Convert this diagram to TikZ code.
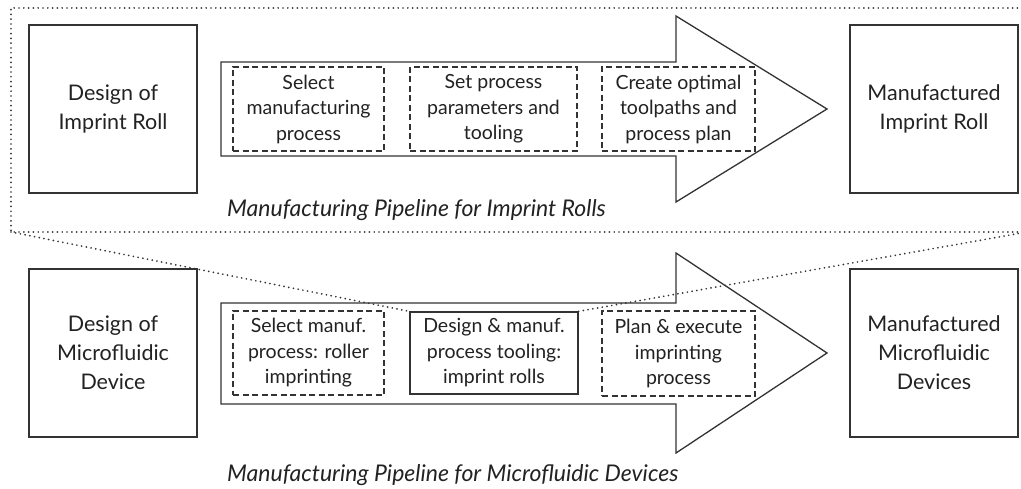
\documentclass[tikz,border=0pt]{standalone}
\usepackage{fontspec}
\setmainfont{Lato}
\definecolor{ink}{HTML}{333333}
\definecolor{textink}{HTML}{222222}
\begin{document}
\begin{tikzpicture}[x=1pt,y=-1pt,
  solidline/.style={draw=ink,line width=1.3pt,line join=miter},
  bigbox/.style={solidline,minimum width=168pt,minimum height=168pt,inner sep=0pt,
    align=center,text=textink,font=\fontsize{21.5}{29}\selectfont},
  stepbox/.style={draw=ink,line width=1.2pt,dash pattern=on 6pt off 3.5pt,
    minimum height=84pt,inner sep=0pt,align=center,text=textink,
    font=\fontsize{19.5}{25.5}\selectfont},
  toolbox/.style={solidline,minimum height=82pt,inner sep=0pt,align=center,text=textink,
    font=\fontsize{19.5}{25.5}\selectfont},
  blockarrow/.style={draw=ink,line width=1.3pt,line join=miter,fill=white},
  callout/.style={draw=ink,line width=1.9pt,line cap=round,dash pattern=on 0pt off 4.8pt},
  captiontext/.style={inner sep=0pt,text=textink,font=\fontsize{23}{27}\selectfont\itshape}]
\useasboundingbox (0,0) rectangle (1021,489);

% ---------- pipeline for imprint rolls ----------
\draw[blockarrow] (221,62) -- (676,62) -- (676,16) -- (827,109) -- (676,202)
  -- (676,156) -- (221,156) -- cycle;
\node[bigbox] (dIR) at (113,109) {Design of\\Imprint Roll};
\node[bigbox] (mIR) at (934,109) {Manufactured\\Imprint Roll};
\node[stepbox,minimum width=151pt] (s1) at (308.5,109) {Select\\manufacturing\\process};
\node[stepbox,minimum width=167pt] (s2) at (493.5,109) {Set process\\parameters and\\tooling};
\node[stepbox,minimum width=153pt] (s3) at (678.5,109) {Create optimal\\toolpaths and\\process plan};
\node[captiontext,anchor=base west] (cap1) at (227,217) {Manufacturing Pipeline for Imprint Rolls};

% ---------- pipeline for microfluidic devices ----------
\draw[blockarrow] (221,303) -- (676,303) -- (676,253) -- (827,353) -- (676,453)
  -- (676,404) -- (221,404) -- cycle;
\node[bigbox] (dMD) at (113,353) {Design of\\Microfluidic\\Device};
\node[bigbox] (mMD) at (934,353) {Manufactured\\Microfluidic\\Devices};
\node[stepbox,minimum width=151pt] (b1) at (308.5,353) {Select manuf.\\process: roller\\imprinting};
\node[toolbox,minimum width=168pt] (b2) at (494,353) {Design \& manuf.\\process tooling:\\imprint rolls};
\node[stepbox,minimum width=153pt,minimum height=85pt] (b3) at (678.5,353.5) {Plan \& execute\\imprinting\\process};
\node[captiontext,anchor=base west] (cap2) at (227,481) {Manufacturing Pipeline for Microfluidic Devices};

% ---------- zoom frame: the tooling step expanded into the upper pipeline ----------
\coordinate (zl) at (11,232);
\coordinate (zr) at (1027,232);
\begin{scope}
  \clip (0,0) rectangle (1021,489);
  \draw[callout] (zr) -- (zl) -- (11,8) -- (1027,8);
  \draw[callout] (zl) -- (b2.north west);
  \draw[callout] (b2.north east) -- (zr);
\end{scope}
\end{tikzpicture}
\end{document}
